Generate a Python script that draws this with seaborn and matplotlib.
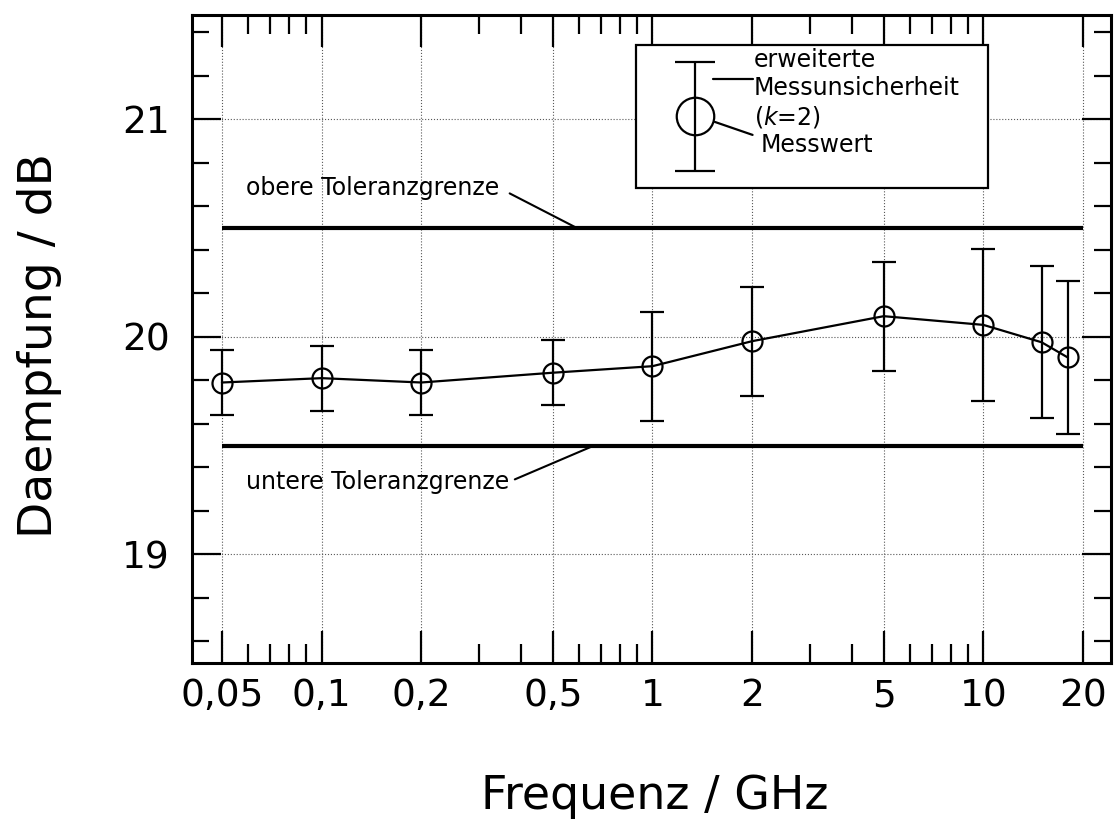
import numpy as np
import matplotlib
matplotlib.use("Agg")
import matplotlib.pyplot as plt
import matplotlib.ticker as mticker
from matplotlib.patches import Rectangle
import seaborn as sns

freq_ghz = [0.05, 0.1, 0.2, 0.5, 1, 2, 5, 10, 15, 18]
daempfung_db = [19.79, 19.81, 19.79, 19.835, 19.865, 19.98, 20.095, 20.055, 19.975, 19.905]
unsicherheit_db = [0.15, 0.15, 0.15, 0.15, 0.25, 0.25, 0.25, 0.35, 0.35, 0.35]

# Toleranzgrenzen
tol_x = [0.05, 20]
tol_oben = 20.5
tol_unten = 19.5

# Achsenbeschriftung
x_major = [0.05, 0.1, 0.2, 0.5, 1, 2, 5, 10, 20]
x_labels = ["0,05", "0,1", "0,2", "0,5", "1", "2", "5", "10", "20"]
x_minor = [0.06, 0.07, 0.08, 0.09, 0.3, 0.4, 0.6, 0.7, 0.8, 0.9, 3, 4, 6, 7, 8, 9]
y_major = [19, 20, 21]
y_minor = [18.6, 18.8, 19.2, 19.4, 19.6, 19.8, 20.2, 20.4, 20.6, 20.8, 21.2, 21.4]

sns.set_style("white")
plt.rcParams['font.family'] = ['DejaVu Sans']
plt.rcParams['mathtext.fontset'] = 'dejavusans'
plt.rcParams['text.color'] = 'black'
plt.rcParams['axes.labelcolor'] = 'black'

fig = plt.figure(figsize=(11.19, 8.30), dpi=100)
ax = fig.add_axes([0.1716, 0.2012, 0.8212, 0.7807])

# Messwerte mit Linie
sns.lineplot(x=freq_ghz, y=daempfung_db, ax=ax, color='black', lw=1.6,
             marker='o', markersize=14.4, markerfacecolor='none',
             markeredgecolor='black', markeredgewidth=1.6, sort=False, zorder=5)
ax.errorbar(freq_ghz, daempfung_db, yerr=unsicherheit_db, fmt='none',
            ecolor='black', elinewidth=1.6, capsize=8.3, capthick=1.6, zorder=5)

# Toleranzgrenzen
ax.hlines([tol_oben, tol_unten], tol_x[0], tol_x[1], colors='black', lw=3, zorder=4)

ax.set_xscale('log')
ax.set_xlim(0.0406, 24.3)
ax.set_ylim(18.5, 21.48)

ax.xaxis.set_major_locator(mticker.FixedLocator(x_major))
ax.xaxis.set_major_formatter(mticker.FixedFormatter(x_labels))
ax.xaxis.set_minor_locator(mticker.FixedLocator(x_minor))
ax.xaxis.set_minor_formatter(mticker.NullFormatter())
ax.yaxis.set_major_locator(mticker.FixedLocator(y_major))
ax.yaxis.set_minor_locator(mticker.FixedLocator(y_minor))

ax.tick_params(which='both', direction='in', bottom=True, left=True, top=True, right=True,
               width=1.6, colors='black', labelcolor='black')
ax.tick_params(axis='x', which='major', length=23, pad=11, labelsize=27)
ax.tick_params(axis='x', which='minor', length=14)
ax.tick_params(axis='y', which='major', length=21, pad=16, labelsize=27)
ax.tick_params(axis='y', which='minor', length=12)

for s in ax.spines.values():
    s.set_linewidth(2.2)
    s.set_color('black')

ax.grid(True, which='major', ls=':', lw=0.8, color='0.35', zorder=0)

ax.set_xlabel('Frequenz / GHz', fontsize=33)
ax.set_ylabel('Daempfung / dB', fontsize=34)
ax.xaxis.set_label_coords(0.504, -0.172)
ax.yaxis.set_label_coords(-0.142, 0.49)

# Beschriftung der Toleranzgrenzen
ax.annotate('obere Toleranzgrenze', xy=(0.592, tol_oben), xytext=(0.059, 20.685),
            fontsize=17, va='center', ha='left',
            arrowprops=dict(arrowstyle='-', lw=1.5, color='black',
                            relpos=(1, 0.5), shrinkA=6, shrinkB=0))
ax.annotate('untere Toleranzgrenze', xy=(0.666, tol_unten), xytext=(0.059, 19.333),
            fontsize=17, va='center', ha='left',
            arrowprops=dict(arrowstyle='-', lw=1.5, color='black',
                            relpos=(1, 0.5), shrinkA=2, shrinkB=0))

# Legendenkasten
box = Rectangle((0.483, 0.733), 0.383, 0.221, transform=ax.transAxes,
                facecolor='white', edgecolor='black', lw=1.6, zorder=6)
ax.add_patch(box)
ax.errorbar([0.547], [0.844], yerr=[[0.085], [0.083]], transform=ax.transAxes,
            fmt='o', ms=27, mfc='none', mec='black', mew=1.6, color='black',
            elinewidth=1.6, capsize=14.4, capthick=1.6, zorder=7)
ax.plot([0.567, 0.610], [0.901, 0.901], transform=ax.transAxes, color='black', lw=1.6, zorder=7)
ax.plot([0.569, 0.610], [0.835, 0.815], transform=ax.transAxes, color='black', lw=1.6, zorder=7)
ax.text(0.6115, 0.930, 'erweiterte', transform=ax.transAxes, fontsize=17, va='center', zorder=7)
ax.text(0.6115, 0.887, 'Messunsicherheit', transform=ax.transAxes, fontsize=17, va='center', zorder=7)
ax.text(0.6115, 0.843, '($k$=2)', transform=ax.transAxes, fontsize=17, va='center', zorder=7)
ax.text(0.619, 0.799, 'Messwert', transform=ax.transAxes, fontsize=17, va='center', zorder=7)

plt.savefig('out.png', dpi=100)
plt.close()
